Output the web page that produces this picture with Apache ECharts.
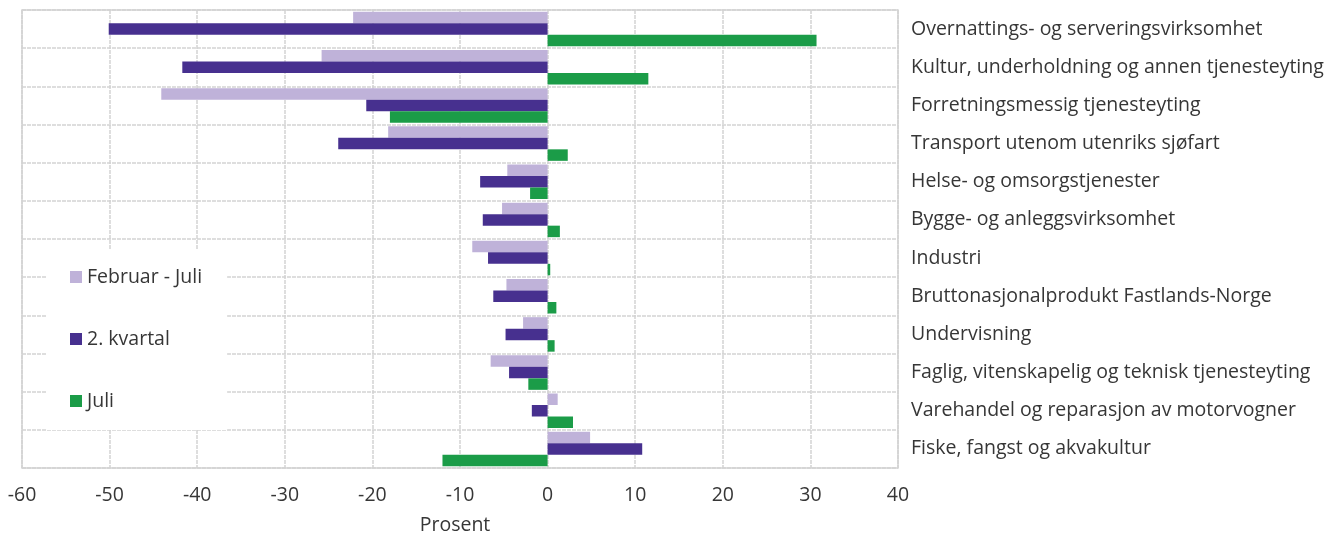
<!DOCTYPE html>
<html><head><meta charset="utf-8">
<script src="https://cdn.jsdelivr.net/npm/echarts@6/dist/echarts.min.js"></script>
<style>html,body{margin:0;padding:0;background:#fff}#c{width:1340px;height:538px}</style>
</head><body><div id="c"></div>
<script>
const categories = [
  "Overnattings- og serveringsvirksomhet",
  "Kultur, underholdning og annen tjenesteyting",
  "Forretningsmessig tjenesteyting",
  "Transport utenom utenriks sjøfart",
  "Helse- og omsorgstjenester",
  "Bygge- og anleggsvirksomhet",
  "Industri",
  "Bruttonasjonalprodukt Fastlands-Norge",
  "Undervisning",
  "Faglig, vitenskapelig og teknisk tjenesteyting",
  "Varehandel og reparasjon av motorvogner",
  "Fiske, fangst og akvakultur"
];
const febJuli  = [-22.2, -25.8, -44.1, -18.2, -4.6, -5.2, -8.6, -4.7, -2.8, -6.5, 1.15, 4.85];
const kvartal2 = [-50.1, -41.7, -20.7, -23.9, -7.7, -7.4, -6.8, -6.2, -4.8, -4.4, -1.8, 10.8];
const juli     = [30.7, 11.5, -18.0, 2.3, -2.0, 1.4, 0.3, 1.0, 0.8, -2.2, 2.9, -12.0];
const seriesNames = ["Februar - Juli", "2. kvartal", "Juli"];
const xTicks = { min: -60, max: 40, interval: 10 };

const FONT = "'Open Sans', 'Noto Sans', sans-serif";
const FS = 19.5;
const TXT = '#363636';
const GRID = '#d4d4d4';
const chart = echarts.init(document.getElementById('c'));
chart.setOption({
  animation: false,
  textStyle: { fontFamily: FONT },
  grid: { left: 22, right: 442, top: 10, bottom: 70, show: true, borderColor: GRID, borderWidth: 1.5, outerBoundsMode: 'none', containLabel: false },
  legend: {
    orient: 'vertical', left: 46, top: 250,
    backgroundColor: '#ffffff',
    padding: [17, 25, 19, 24],
    itemWidth: 12, itemHeight: 12, itemGap: 42,
    icon: 'rect',
    textStyle: { fontSize: FS, color: TXT, fontFamily: FONT },
    data: seriesNames
  },
  xAxis: {
    type: 'value', min: xTicks.min, max: xTicks.max, interval: xTicks.interval,
    name: 'Prosent', nameLocation: 'middle', nameGap: 47,
    nameTextStyle: { fontSize: FS, color: TXT, fontFamily: FONT, padding: [0, 10, 0, 0] },
    axisLine: { show: false }, axisTick: { show: false },
    axisLabel: { fontSize: FS, color: TXT, margin: 17, fontFamily: FONT },
    splitLine: { show: true, lineStyle: { color: GRID, width: 1.5, type: [4, 1] } }
  },
  yAxis: {
    type: 'category', data: categories, inverse: true, position: 'right',
    axisLine: { show: false }, axisTick: { show: false },
    axisLabel: { fontSize: FS, color: TXT, margin: 13, align: 'left', fontFamily: FONT },
    splitLine: { show: true, lineStyle: { color: GRID, width: 1.5, type: [4, 1] } }
  },
  series: [
    { name: seriesNames[0], type: 'bar', data: febJuli, itemStyle: { color: '#bfb2d9' }, barWidth: 11.5, barGap: '0%', barCategoryGap: '10%' },
    { name: seriesNames[1], type: 'bar', data: kvartal2, itemStyle: { color: '#47308f' }, barWidth: 11.5, barGap: '0%' },
    { name: seriesNames[2], type: 'bar', data: juli, itemStyle: { color: '#1b9c48' }, barWidth: 11.5, barGap: '0%' }
  ]
});
</script></body></html>
